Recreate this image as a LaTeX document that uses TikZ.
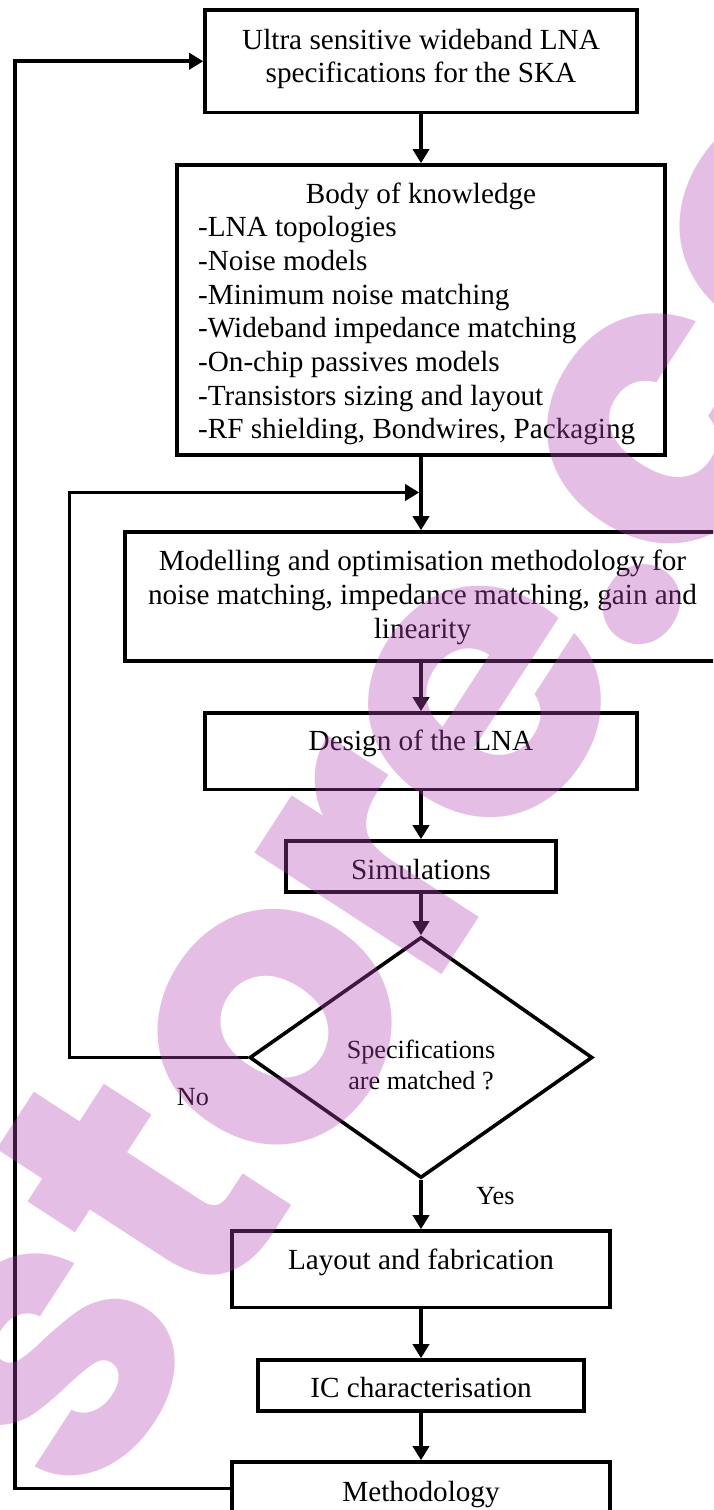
\documentclass[tikz,border=0pt]{standalone}
\usepackage{fontspec}
\setmainfont{Liberation Serif}
\newfontfamily\markfont{Poppins}
\usetikzlibrary{arrows.meta,shapes.geometric}
\definecolor{markcol}{RGB}{180,70,180}
\tikzset{
  flow/.style={draw, rectangle, line width=1.8pt, inner sep=0pt},
  txt/.style={inner sep=0pt, anchor=base, font=\fontsize{14.6}{16.85}\selectfont},
  lbl/.style={inner sep=0pt, anchor=base, font=\fontsize{13.1}{15.5}\selectfont},
  arr/.style={line width=1.8pt, -{Triangle[length=7pt,width=8pt]}},
}
\begin{document}
\begin{tikzpicture}[x=0.5pt, y=-0.5pt]
\useasboundingbox (0,0) rectangle (713,1510);
\clip (0,0) rectangle (713,1510);

% boxes of the flow
\node[flow, minimum width=216pt, minimum height=51.25pt] (spec) at (421,61.25) {};
\node[flow, minimum width=243.75pt, minimum height=145pt] (body) at (421,310) {};
\node[flow, minimum width=296pt, minimum height=64.5pt] (model) at (421,596.5) {};
\node[flow, minimum width=216pt, minimum height=38.25pt] (design) at (421,751.25) {};
\node[flow, minimum width=135pt, minimum height=25.5pt] (sim) at (421,866.5) {};
\node[draw, diamond, line width=1.8pt, minimum width=171.5pt, minimum height=120.5pt, inner sep=0pt] (check) at (421,1057.5) {};
\node[flow, minimum width=189pt, minimum height=38.25pt] (layout) at (421,1269.25) {};
\node[flow, minimum width=163pt, minimum height=25.5pt] (ic) at (421,1385.5) {};
\node[flow, minimum width=189pt, minimum height=26.5pt] (meth) at (421,1488.5) {};

% texts
\node[txt] (specA) at (421,49.3) {Ultra sensitive wideband LNA};
\node[txt] (specB) at (421,82.7) {specifications for the SKA};
\node[txt] (bodyT) at (421,203.3) {Body of knowledge};
\foreach \line [count=\i] in {{-LNA topologies},{-Noise models},{-Minimum noise matching},{-Wideband impedance matching},{-On-chip passives models},{-Transistors sizing and layout},{-RF shielding, Bondwires, Packaging}}
  \node[txt, anchor=base west] (item\i) at (197.7,{236.7+33.7*(\i-1)}) {\line};
\node[txt] (modelA) at (422.5,570) {Modelling and optimisation methodology for};
\node[txt] (modelB) at (422.5,604) {noise matching, impedance matching, gain and};
\node[txt] (modelC) at (422.5,638) {linearity};
\node[txt] (designT) at (421,750.7) {Design of the LNA};
\node[txt] (simT) at (421,879.3) {Simulations};
\node[lbl] (checkA) at (421,1058) {Specifications};
\node[lbl] (checkB) at (421,1089.3) {are matched ?};
\node[lbl] (no) at (193,1105) {No};
\node[lbl] (yes) at (495.5,1204.3) {Yes};
\node[txt] (layoutT) at (421,1269.3) {Layout and fabrication};
\node[txt] (icT) at (421,1397.7) {IC characterisation};
\node[txt] (methT) at (421,1501) {Methodology};

% main chain
\coordinate (join) at (421,492.5);
\draw[arr] (spec.south) -- (body.north);
\draw[arr] (body.south) -- (model.north);
\draw[arr] (model.south) -- (design.north);
\draw[arr] (design.south) -- (sim.north);
\draw[arr] (sim.south) -- (check.north);
\draw[arr] (check.south) -- (layout.north);
\draw[arr] (layout.south) -- (ic.north);
\draw[arr] (ic.south) -- (meth.north);

% feedback loops
\coordinate (noturn) at (69.5,1057.5);
\draw[arr] (check.west) -- (noturn) |- ([xshift=-0.9pt]join);
\coordinate (backturn) at (15,1488.5);
\draw[arr] (meth.west) -- (backturn) |- (spec.west);

% translucent watermark on top
\node[rotate=57, anchor=base west, inner sep=0pt, text=markcol, text opacity=0.35,
      font=\markfont\bfseries\fontsize{200}{200}\selectfont] (mark) at (89,1518)
      {sto\kern-9pt r\kern-9pt e\kern-6pt .\kern-10pt co};
\end{tikzpicture}
\end{document}
